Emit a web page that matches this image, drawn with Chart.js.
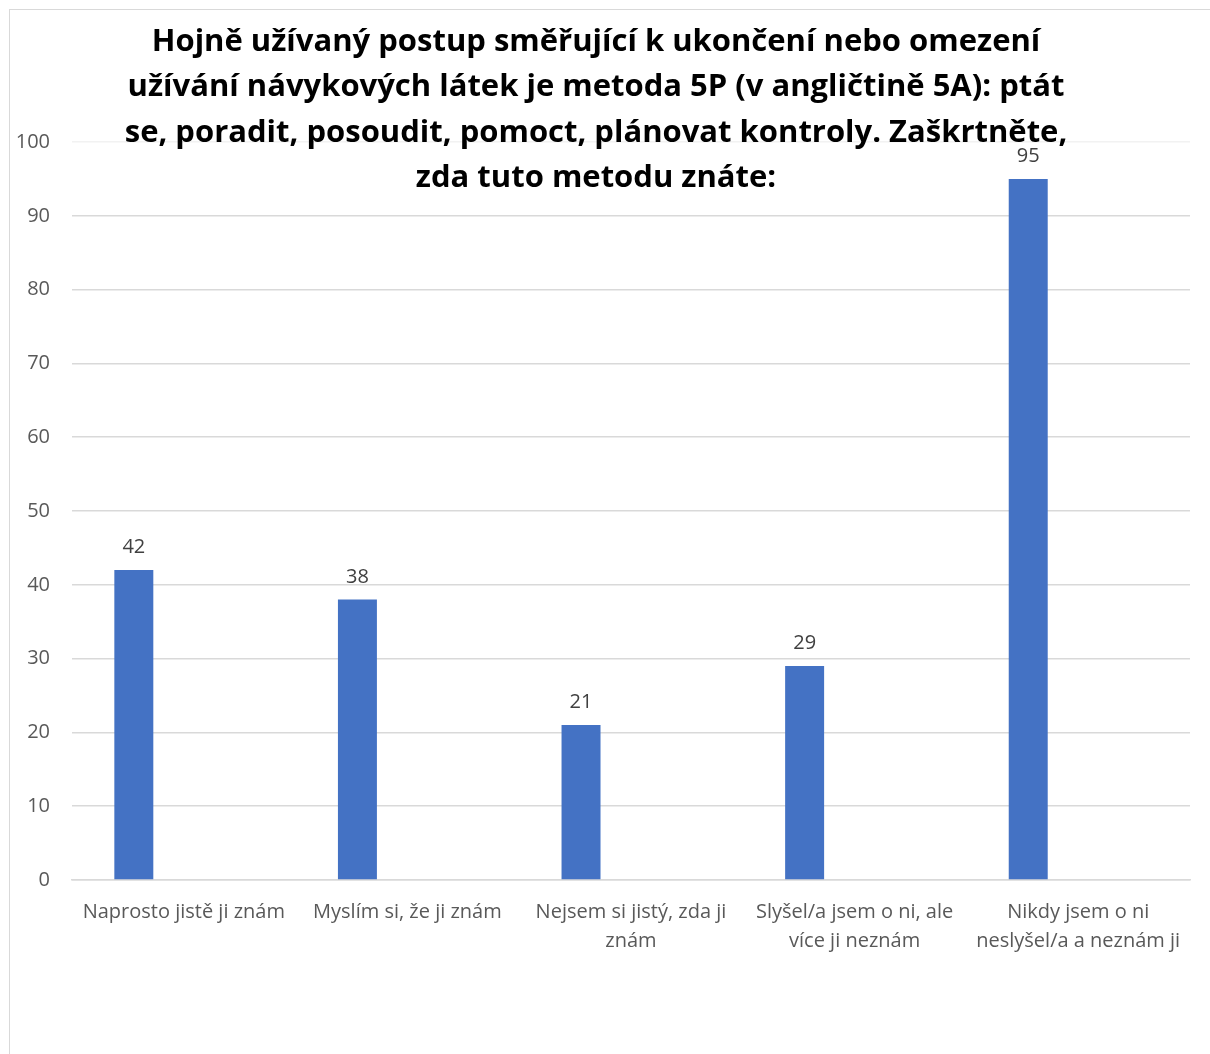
<!DOCTYPE html>
<html>
<head>
<meta charset="utf-8">
<script src="https://cdn.jsdelivr.net/npm/chart.js@4"></script>
<style>
  html, body { margin: 0; padding: 0; background: #fff; }
  #wrap { position: relative; width: 1210px; height: 1054px; overflow: hidden; }
  #frame { position: absolute; left: 9px; top: 9px; width: 1300px; height: 1200px; border: 1.5px solid #d9d9d9; box-sizing: border-box; }
  canvas { position: absolute; left: 0; top: 0; }
</style>
</head>
<body>
<div id="wrap">
  <div id="frame"></div>
  <canvas id="chart" width="1210" height="1054"></canvas>
</div>
<script>
// data
const categories = [
  'Naprosto jistě ji znám',
  'Myslím si, že ji znám',
  ['Nejsem si jistý, zda ji', 'znám'],
  ['Slyšel/a jsem o ni, ale', 'více ji neznám'],
  ['Nikdy jsem o ni', 'neslyšel/a a neznám ji']
];
const values = [42, 38, 21, 29, 95];
const emptySeries = [null, null, null, null, null];
const yTicks = [0, 10, 20, 30, 40, 50, 60, 70, 80, 90, 100];
const titleLines = [
  'Hojně užívaný postup směřující k ukončení nebo omezení',
  'užívání návykových látek je metoda 5P (v angličtině 5A): ptát',
  'se, poradit, posoudit, pomoct, plánovat kontroly. Zaškrtněte,',
  'zda tuto metodu znáte:'
];

const FONT = "'Open Sans', 'Noto Sans', sans-serif";

// popisky hodnot nad sloupci
const valueLabels = {
  id: 'valueLabels',
  afterDatasetsDraw(chart) {
    const ctx = chart.ctx;
    const meta = chart.getDatasetMeta(0);
    ctx.save();
    ctx.font = '20px ' + FONT;
    ctx.fillStyle = '#404040';
    ctx.textAlign = 'center';
    ctx.textBaseline = 'alphabetic';
    meta.data.forEach((bar, i) => {
      ctx.fillText(String(values[i]), bar.x, bar.y - 17);
    });
    ctx.restore();
  }
};

// nadpis pres plochu grafu
const bigTitle = {
  id: 'bigTitle',
  afterDraw(chart) {
    const ctx = chart.ctx;
    ctx.save();
    ctx.font = 'bold 31px ' + FONT;
    ctx.fillStyle = '#000';
    ctx.textAlign = 'center';
    ctx.textBaseline = 'middle';
    const ys = [42, 87, 133, 178];
    titleLines.forEach((t, i) => ctx.fillText(t, 596, ys[i]));
    ctx.restore();
  }
};

new Chart(document.getElementById('chart'), {
  type: 'bar',
  data: {
    labels: categories,
    datasets: [
      { data: values, backgroundColor: '#4472c4', categoryPercentage: 0.894, barPercentage: 0.39 },
      { data: emptySeries, backgroundColor: '#ed7d31', categoryPercentage: 0.894, barPercentage: 0.39 }
    ]
  },
  options: {
    responsive: false,
    animation: false,
    layout: { padding: { left: 0, right: 20, top: 142, bottom: 0 } },
    plugins: { legend: { display: false }, tooltip: { enabled: false } },
    scales: {
      x: {
        grid: { display: false, drawTicks: false },
        border: { display: true, color: '#d9d9d9', width: 1.5 },
        ticks: { color: '#595959', font: { family: FONT, size: 20, lineHeight: 1.45 }, padding: 18, maxRotation: 0, autoSkip: false },
        afterFit(axis) { axis.height = 174; }
      },
      y: {
        min: 0, max: 100,
        afterBuildTicks(axis) { axis.ticks = yTicks.map(v => ({ value: v })); },
        grid: { color: ctx => ctx.tick && ctx.tick.value === 100 ? '#f2f2f2' : '#d9d9d9', lineWidth: 1.5, drawTicks: false },
        border: { display: false },
        ticks: { color: '#595959', font: { family: FONT, size: 20 }, padding: 22 },
        afterFit(axis) { axis.width = 72; }
      }
    }
  },
  plugins: [valueLabels, bigTitle]
});
</script>
</body>
</html>
